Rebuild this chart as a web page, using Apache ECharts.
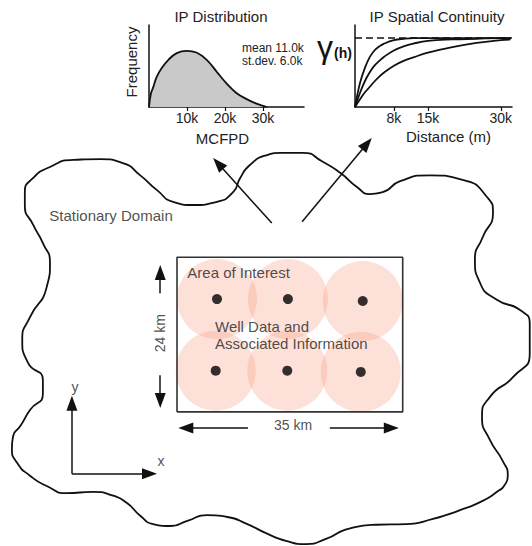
<!DOCTYPE html>
<html><head><meta charset="utf-8">
<script src="https://cdn.jsdelivr.net/npm/echarts@6/dist/echarts.min.js"></script>
<style>html,body{margin:0;padding:0;background:#fff}#c{width:532px;height:546px}</style>
</head><body><div id="c"></div>
<script>
// ---------- IP distribution (MCFPD in thousands, relative frequency) ----------
const distMcfpdK = [0, 0.5, 1.1, 2.0, 3.3, 5.1, 7.3, 9.9, 12.5, 15.2, 17.8, 20.4, 23.0, 25.7, 28.3, 30.0, 31.0];
const distFreq   = [0, 0.24, 0.35, 0.53, 0.69, 0.84, 0.96, 1.0, 0.97, 0.84, 0.63, 0.42, 0.25, 0.14, 0.06, 0.02, 0];
const distTicksK = [10, 20, 30];
const distMeanK = 11.0;
const distSdK = 6.0;

// ---------- IP spatial continuity (lag distance in thousands of m, variogram / sill) ----------
const lagK       = [0, 1, 2, 3, 4, 5, 6, 8, 10, 12, 15, 20, 25, 30, 32];
const gammaShort = [0, 0.34, 0.56, 0.72, 0.82, 0.88, 0.92, 0.97, 0.99, 1.0, 1.0, 1.0, 1.0, 1.0, 1.0];
const gammaMid   = [0, 0.20, 0.37, 0.50, 0.60, 0.67, 0.73, 0.82, 0.88, 0.92, 0.96, 0.98, 0.99, 1.0, 1.0];
const gammaLong  = [0, 0.11, 0.21, 0.29, 0.37, 0.44, 0.50, 0.60, 0.67, 0.72, 0.79, 0.87, 0.93, 0.97, 0.98];
const sill = 1.0;
const rangeTicksK = [8, 15, 30];

// ---------- Map (km, origin at lower-left corner of the area of interest) ----------
const areaSizeKm = [35, 24];
const wellXKm = [6.2, 17.2, 28.8, 6.0, 17.1, 28.5];
const wellYKm = [17.5, 17.5, 17.2, 6.4, 6.4, 6.2];
const domainOutlineKm = [
  [-23.6,32.1],[-23.6,34.1],[-22.3,36.3],[-19.7,38.0],[-16.1,39.1],[-11.9,39.2],[-8.4,38.6],[-5.7,36.7],
  [-3.1,34.4],[-0.6,32.6],[2.5,32.1],[6.2,32.6],[8.7,34.1],[9.8,36.3],[11.3,38.3],[13.8,39.8],[16.0,40.2],
  [19.5,40.2],[22.6,38.8],[25.3,37.1],[27.9,34.9],[29.9,33.8],[31.9,34.1],[34.6,35.8],[39.2,36.7],[44.3,36.0],
  [48.1,33.3],[49.0,30.9],[47.4,27.1],[46.2,23.6],[47.0,20.0],[49.6,17.4],[53.2,15.8],[54.7,13.6],[54.7,9.1],
  [52.1,5.4],[48.5,2.3],[47.3,-0.8],[48.5,-4.3],[50.5,-7.6],[51.3,-9.9],[50.7,-11.5],[49.9,-12.2],[47.4,-13.8],
  [43.7,-15.3],[39.7,-16.6],[35.5,-17.4],[30.9,-17.5],[26.7,-18.1],[23.1,-19.7],[20.0,-20.5],[16.9,-20.0],
  [13.8,-18.8],[10.9,-17.4],[7.8,-16.3],[4.7,-16.0],[1.6,-16.9],[-1.1,-17.7],[-3.7,-17.4],[-5.7,-16.1],
  [-7.8,-14.1],[-9.9,-13.0],[-13.0,-12.4],[-17.1,-12.6],[-20.2,-11.5],[-22.8,-9.9],[-24.8,-7.9],[-25.6,-5.7],
  [-25.4,-3.7],[-24.3,-2.2],[-22.8,0.3],[-20.8,2.8],[-20.8,5.0],[-23.1,7.6],[-24.0,11.2],[-22.8,14.7],
  [-20.2,19.4],[-19.7,23.1],[-20.8,26.2],[-22.3,29.0]
];
// arrows: [tail, tip]
const arrowTailsKm = [[-2.6,18.4],[-2.6,5.7],[11.0,-2.5],[23.7,-2.5],[-16.3,-9.6],[-16.3,-9.6],[14.7,29.3],[19.4,29.5]];
const arrowTipsKm  = [[-2.6,22.8],[-2.6,0.6],[0.2,-2.5],[34.4,-2.5],[-16.3,2.5],[-3.1,-9.6],[5.6,39.4],[30.2,42.5]];
const labelsLeft = [['Stationary Domain', -19.8, 30.5], ['Area of Interest', 1.6, 21.6], ['Well Data and\nAssociated Information', 5.9, 11.9]];
const labelsCenter = [[areaSizeKm[0] + ' km', 18.0, -2.0], ['x', -2.5, -7.6], ['y', -15.8, 3.9]];
const labelsRotated = [[areaSizeKm[1] + ' km', -2.6, 12.2]];

// ---------- build ----------
const F = 'Liberation Sans, Arial, Helvetica, sans-serif';
const TXT = '#222';
const INK = '#111';
const pxPerKm = 532 / 82.5;
const headHalfKm = 7.5 / pxPerKm;

const zip = (a, b) => a.map((v, i) => [v, b[i]]);
const arrowData = arrowTailsKm.map((t, i) => {
  const p = arrowTipsKm[i];
  const dx = p[0] - t[0], dy = p[1] - t[1];
  const L = Math.hypot(dx, dy);
  return { coords: [t, [p[0] - dx / L * headHalfKm, p[1] - dy / L * headHalfKm]] };
});
const wells = zip(wellXKm, wellYKm);
const W = areaSizeKm[0], H = areaSizeKm[1];

const axisLine = { show: true, onZero: false, lineStyle: { color: INK, width: 1.5 } };
const tickLabel = { fontSize: 14, color: TXT, fontFamily: F, margin: 4 };
const nameStyle = { fontSize: 15, color: TXT, fontFamily: F };

const chart = echarts.init(document.getElementById('c'), null, { renderer: 'svg' });
chart.setOption({
  animation: false,
  backgroundColor: '#fff',
  grid: [
    { left: 149, top: 25, width: 155, height: 82 },
    { left: 355, top: 25, width: 157, height: 82 },
    { left: 0, top: 0, width: 532, height: 546 }
  ],
  xAxis: [
    { gridIndex: 0, type: 'value', min: 0, max: 40.8, axisLine,
      axisTick: { show: true, customValues: distTicksK, length: 4, lineStyle: { color: INK, width: 1.2 } },
      axisLabel: Object.assign({ customValues: distTicksK, formatter: v => v + 'k' }, tickLabel),
      splitLine: { show: false },
      name: 'MCFPD', nameLocation: 'middle', nameGap: 24, nameTextStyle: Object.assign({ padding: [0, 8, 0, 0] }, nameStyle) },
    { gridIndex: 1, type: 'value', min: 0, max: 32.3, axisLine,
      axisTick: { show: true, customValues: rangeTicksK, length: 4, lineStyle: { color: INK, width: 1.2 } },
      axisLabel: Object.assign({ customValues: rangeTicksK, formatter: v => v + 'k' }, tickLabel),
      splitLine: { show: false },
      name: 'Distance (m)', nameLocation: 'middle', nameGap: 22, nameTextStyle: Object.assign({ padding: [0, 0, 0, 30] }, nameStyle) },
    { gridIndex: 2, type: 'value', min: -27.45, max: 55.05, show: false }
  ],
  yAxis: [
    { gridIndex: 0, type: 'value', min: 0, max: 1.46, axisLine, axisTick: { show: false }, axisLabel: { show: false },
      splitLine: { show: false }, name: 'Frequency', nameLocation: 'middle', nameGap: 10, nameTextStyle: Object.assign({ padding: [0, 0, 0, 8] }, nameStyle) },
    { gridIndex: 1, type: 'value', min: 0, max: 1.19, axisLine, axisTick: { show: false }, axisLabel: { show: false },
      splitLine: { show: false } },
    { gridIndex: 2, type: 'value', min: -20.8, max: 63.9, show: false }
  ],
  graphic: [
    { type: 'text', x: 221, y: 16, style: { text: 'IP Distribution', font: '15px ' + F, fill: TXT, textAlign: 'center', textVerticalAlign: 'middle' } },
    { type: 'text', x: 242, y: 41, style: { text: 'mean ' + distMeanK.toFixed(1) + 'k\nst.dev. ' + distSdK.toFixed(1) + 'k', font: '12px ' + F, lineHeight: 13, fill: TXT, textAlign: 'left', textVerticalAlign: 'top' } },
    { type: 'text', x: 437, y: 16, style: { text: 'IP Spatial Continuity', font: '15px ' + F, fill: TXT, textAlign: 'center', textVerticalAlign: 'middle' } },
    { type: 'text', x: 325, y: 47, style: { text: 'γ', font: '32px ' + F, fill: INK, textAlign: 'center', textVerticalAlign: 'middle' } },
    { type: 'text', x: 343, y: 53, style: { text: '(h)', font: 'bold 14px ' + F, fill: INK, textAlign: 'center', textVerticalAlign: 'middle' } }
  ],
  series: [
    { type: 'line', xAxisIndex: 0, yAxisIndex: 0, data: zip(distMcfpdK, distFreq), smooth: 0.4, showSymbol: false,
      lineStyle: { color: INK, width: 1.8 }, areaStyle: { color: '#c9c9c9', opacity: 1 } },
    { type: 'line', xAxisIndex: 1, yAxisIndex: 1, data: [[0, sill], [32.3, sill]], showSymbol: false,
      lineStyle: { color: INK, width: 1.5, type: [7, 4] } },
    { type: 'line', xAxisIndex: 1, yAxisIndex: 1, data: zip(lagK, gammaShort), smooth: 0.4, showSymbol: false, lineStyle: { color: INK, width: 1.8 } },
    { type: 'line', xAxisIndex: 1, yAxisIndex: 1, data: zip(lagK, gammaMid), smooth: 0.4, showSymbol: false, lineStyle: { color: INK, width: 1.8 } },
    { type: 'line', xAxisIndex: 1, yAxisIndex: 1, data: zip(lagK, gammaLong), smooth: 0.4, showSymbol: false, lineStyle: { color: INK, width: 1.8 } },
    // map
    { type: 'scatter', xAxisIndex: 2, yAxisIndex: 2, data: wells, symbolSize: 80,
      itemStyle: { color: 'rgba(247,140,110,0.33)' }, silent: true },
    { type: 'line', xAxisIndex: 2, yAxisIndex: 2, data: [[0, 0], [W, 0], [W, H], [0, H], [0, 0]], showSymbol: false,
      lineStyle: { color: '#333', width: 1.6 }, silent: true },
    { type: 'scatter', xAxisIndex: 2, yAxisIndex: 2, data: wells, symbolSize: 10, itemStyle: { color: '#000' }, silent: true },
    { type: 'line', xAxisIndex: 2, yAxisIndex: 2, data: domainOutlineKm.concat([domainOutlineKm[0], domainOutlineKm[1]]),
      smooth: 0.6, showSymbol: false, lineStyle: { color: INK, width: 1.8 }, silent: true },
    { type: 'lines', coordinateSystem: 'cartesian2d', xAxisIndex: 2, yAxisIndex: 2, data: arrowData,
      symbol: ['none', 'triangle'], symbolSize: [[1, 1], [11, 15]],
      lineStyle: { color: INK, width: 1.5, opacity: 1 }, itemStyle: { color: INK }, silent: true },
    { type: 'scatter', xAxisIndex: 2, yAxisIndex: 2, symbolSize: 0, itemStyle: { color: 'rgba(0,0,0,0)' }, silent: true,
      data: labelsLeft.map(l => ({ name: l[0], value: [l[1], l[2]] })),
      label: { show: true, position: 'right', distance: 0, formatter: p => p.name, fontSize: 15, lineHeight: 17, color: TXT, fontFamily: F } },
    { type: 'scatter', xAxisIndex: 2, yAxisIndex: 2, symbolSize: 0, itemStyle: { color: 'rgba(0,0,0,0)' }, silent: true,
      data: labelsCenter.map(l => ({ name: l[0], value: [l[1], l[2]] })),
      label: { show: true, position: 'inside', formatter: p => p.name, fontSize: 14, color: TXT, fontFamily: F } },
    { type: 'scatter', xAxisIndex: 2, yAxisIndex: 2, symbolSize: 0, itemStyle: { color: 'rgba(0,0,0,0)' }, silent: true,
      data: labelsRotated.map(l => ({ name: l[0], value: [l[1], l[2]] })),
      label: { show: true, position: 'inside', rotate: 90, formatter: p => p.name, fontSize: 14, color: TXT, fontFamily: F } }
  ]
});
</script></body></html>
